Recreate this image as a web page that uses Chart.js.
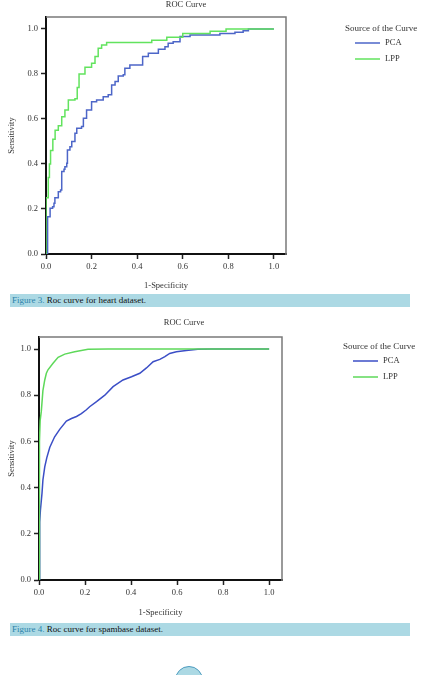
<!DOCTYPE html>
<html>
<head>
<meta charset="utf-8">
<script src="https://cdn.jsdelivr.net/npm/chart.js@4"></script>
<style>
  body { margin: 0; background: #fff; width: 423px; height: 675px; overflow: hidden; position: relative; }
  .wrap { position: absolute; left: 0; }
  .cap {
    position: absolute; left: 10px; width: 398px; height: 13px; padding-left: 2px;
    background: #acd9e4; font: 9px "Liberation Serif", serif; line-height: 13px; color: #111;
  }
  .cap span { color: #2b83ab; }
  .pg {
    position: absolute; left: 175px; top: 666px; width: 26px; height: 26px;
    border-radius: 50%; background: #acd9e4; border: 1px solid #4e9cc0;
  }
</style>
</head>
<body>
<div class="wrap" style="top:0;"><canvas id="heart" width="423" height="294"></canvas></div>
<div class="cap" style="top:294px;"><span>Figure 3.</span> Roc curve for heart dataset.</div>
<div class="wrap" style="top:308px;"><canvas id="spam" width="423" height="316"></canvas></div>
<div class="cap" style="top:623px;"><span>Figure 4.</span> Roc curve for spambase dataset.</div>
<div class="pg"></div>

<script>
const tickValues = [0, 0.2, 0.4, 0.6, 0.8, 1.0];
const curveLabels = ["PCA", "LPP"];

/* ===== heart dataset (figure 3) ===== */
const heartPcaFpr = [0, 0.007, 0.007, 0.018, 0.018, 0.029, 0.035, 0.039, 0.05, 0.054, 0.064, 0.069, 0.079, 0.083, 0.091, 0.094, 0.105, 0.113, 0.127, 0.135, 0.156, 0.164, 0.178, 0.2, 0.222, 0.251, 0.273, 0.288, 0.303, 0.317, 0.339, 0.346, 0.368, 0.412, 0.424, 0.449, 0.478, 0.493, 0.522, 0.536, 0.558, 0.588, 0.632, 0.749, 0.763, 0.829, 0.865, 0.888, 1];
const heartPcaTpr = [0, 0.07, 0.166, 0.166, 0.203, 0.21, 0.225, 0.25, 0.25, 0.277, 0.284, 0.366, 0.376, 0.388, 0.403, 0.462, 0.477, 0.5, 0.536, 0.559, 0.566, 0.603, 0.64, 0.677, 0.684, 0.699, 0.707, 0.751, 0.766, 0.791, 0.796, 0.825, 0.84, 0.84, 0.877, 0.892, 0.892, 0.91, 0.921, 0.936, 0.943, 0.966, 0.973, 0.973, 0.98, 0.985, 0.992, 1, 1];
const heartLppFpr = [0, 0, 0.007, 0.01, 0.015, 0.02, 0.03, 0.04, 0.054, 0.069, 0.083, 0.098, 0.127, 0.137, 0.145, 0.164, 0.171, 0.2, 0.215, 0.229, 0.244, 0.266, 0.354, 0.464, 0.53, 0.6, 0.72, 0.79, 1];
const heartLppTpr = [0, 0.25, 0.25, 0.34, 0.4, 0.46, 0.51, 0.55, 0.57, 0.61, 0.64, 0.684, 0.69, 0.74, 0.8, 0.8, 0.83, 0.847, 0.877, 0.914, 0.929, 0.94, 0.94, 0.95, 0.963, 0.98, 0.99, 1, 1];

/* ===== spambase dataset (figure 4) ===== */
const spamPcaFpr = [0, 0.003, 0.006, 0.013, 0.017, 0.025, 0.034, 0.047, 0.068, 0.09, 0.119, 0.141, 0.163, 0.184, 0.206, 0.22, 0.25, 0.286, 0.322, 0.365, 0.402, 0.438, 0.467, 0.496, 0.525, 0.547, 0.568, 0.597, 0.64, 0.69, 0.75, 1];
const spamPcaTpr = [0, 0.25, 0.3, 0.375, 0.433, 0.49, 0.53, 0.575, 0.62, 0.652, 0.688, 0.699, 0.708, 0.72, 0.737, 0.75, 0.772, 0.8, 0.837, 0.866, 0.88, 0.895, 0.918, 0.945, 0.955, 0.967, 0.981, 0.988, 0.994, 0.999, 1, 1];
const spamLppFpr = [0, 0.002, 0.005, 0.01, 0.017, 0.025, 0.032, 0.039, 0.061, 0.083, 0.112, 0.155, 0.213, 0.3, 1];
const spamLppTpr = [0, 0.6, 0.69, 0.73, 0.82, 0.866, 0.895, 0.91, 0.938, 0.964, 0.978, 0.988, 0.999, 1, 1];

const FONT = '"Liberation Serif", "DejaVu Serif", serif';
const toPoints = (xs, ys) => xs.map((x, i) => ({ x, y: ys[i] }));

/* draws frame, title and legend like the SPSS output */
const decor = {
  id: "decor",
  beforeDatasetsDraw(chart, args, o) {
    const { ctx, chartArea: a } = chart;
    ctx.save();
    ctx.strokeStyle = "#7a7a7a";
    ctx.lineWidth = 1.5;
    ctx.beginPath();
    ctx.moveTo(a.left, a.top);
    ctx.lineTo(a.right, a.top);
    ctx.lineTo(a.right, a.bottom + 1);
    ctx.stroke();
    ctx.restore();
  },
  afterDraw(chart, args, o) {
    const ctx = chart.ctx;
    ctx.save();
    ctx.fillStyle = "#333";
    ctx.font = "8.5px " + FONT;
    ctx.textBaseline = "middle";
    ctx.textAlign = "center";
    ctx.fillText("ROC Curve", o.titleX, o.titleY);
    ctx.textAlign = "left";
    ctx.font = "9px " + FONT;
    ctx.fillText("Source of the Curve", o.legX, o.legY);
    ctx.font = "8.5px " + FONT;
    chart.data.datasets.forEach((ds, i) => {
      const y = o.legY + 14 + i * 16;
      ctx.strokeStyle = ds.borderColor;
      ctx.lineWidth = 1.5;
      ctx.beginPath();
      ctx.moveTo(o.legX + 10, y);
      ctx.lineTo(o.legX + 35, y);
      ctx.stroke();
      ctx.fillText(ds.label, o.legX + 40, y);
    });
    ctx.restore();
  },
};

function rocChart(id, pca, lpp, g) {
  const canvas = document.getElementById(id);
  const H = canvas.height;
  const axis = (max, titleText, extra) => ({
    type: "linear",
    min: 0,
    max: max,
    afterBuildTicks: (s) => { s.ticks = tickValues.map((v) => ({ value: v })); },
    ticks: {
      callback: (v) => Number(v).toFixed(1),
      font: { family: FONT, size: 8.5 },
      color: "#333",
      padding: 3,
      maxRotation: 0,
    },
    grid: { drawOnChartArea: false, drawTicks: true, tickLength: 5, tickWidth: 1.5, tickColor: "#222" },
    border: { display: true, color: "#111", width: 2 },
    title: { display: true, text: titleText, font: { family: FONT, size: 8.5 }, color: "#333", ...extra },
  });

  const xAxis = axis(g.xMax, "1-Specificity", { padding: { top: 0, bottom: g.xTitlePad } });
  xAxis.afterFit = (s) => { s.height = H - g.bottom; };
  const yAxis = axis(g.yMax, "Sensitivity", { padding: { top: 7, bottom: 0 } });
  yAxis.afterFit = (s) => { s.width = g.left; };

  return new Chart(canvas, {
    type: "line",
    data: {
      datasets: [
        { label: curveLabels[0], data: pca, borderColor: g.pcaColor, order: 1 },
        { label: curveLabels[1], data: lpp, borderColor: g.lppColor, order: 0 },
      ].map((d) => ({ ...d, borderWidth: 1.5, pointRadius: 0, tension: 0, stepped: g.stepped, fill: false })),
    },
    options: {
      responsive: false,
      animation: false,
      layout: { padding: { left: 0, top: g.top, right: canvas.width - g.right, bottom: 0 } },
      scales: { x: xAxis, y: yAxis },
      plugins: {
        legend: { display: false },
        tooltip: { enabled: false },
        decor: g.decor,
      },
    },
    plugins: [decor],
  });
}

rocChart("heart", toPoints(heartPcaFpr, heartPcaTpr), toPoints(heartLppFpr, heartLppTpr), {
  left: 46, top: 17, right: 286, bottom: 254,
  xMax: 1.053, yMax: 1.053, xTitlePad: 3, stepped: true,
  pcaColor: "#4d66c8", lppColor: "#62e35e",
  decor: { titleX: 186, titleY: 5, legX: 345, legY: 29 },
});

rocChart("spam", toPoints(spamPcaFpr, spamPcaTpr), toPoints(spamLppFpr, spamLppTpr), {
  left: 39, top: 29, right: 282, bottom: 272,
  xMax: 1.056, yMax: 1.052, xTitlePad: 6, stepped: false,
  pcaColor: "#3b4ec6", lppColor: "#5ed95a",
  decor: { titleX: 184, titleY: 15, legX: 343, legY: 39 },
});
</script>
</body>
</html>
